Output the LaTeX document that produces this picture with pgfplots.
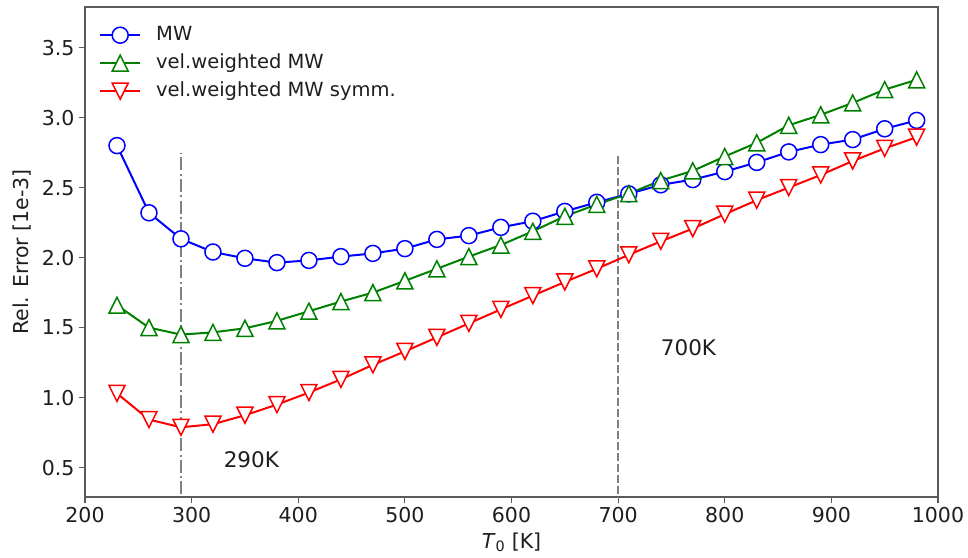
\documentclass[border=0pt]{standalone}
\usepackage{pgfplots}
\pgfplotsset{compat=1.18}
\usepackage{fontspec}
\setmainfont{DejaVu Sans}

% matplotlib-style triangle markers (bounding box centred on the data point)
\pgfdeclareplotmark{tup}{%
  \pgfpathmoveto{\pgfqpoint{0pt}{\pgfplotmarksize}}%
  \pgfpathlineto{\pgfqpoint{-\pgfplotmarksize}{-\pgfplotmarksize}}%
  \pgfpathlineto{\pgfqpoint{\pgfplotmarksize}{-\pgfplotmarksize}}%
  \pgfpathclose\pgfusepathqfillstroke}
\pgfdeclareplotmark{tdown}{%
  \pgfpathmoveto{\pgfqpoint{0pt}{-\pgfplotmarksize}}%
  \pgfpathlineto{\pgfqpoint{-\pgfplotmarksize}{\pgfplotmarksize}}%
  \pgfpathlineto{\pgfqpoint{\pgfplotmarksize}{\pgfplotmarksize}}%
  \pgfpathclose\pgfusepathqfillstroke}

\definecolor{mplblue}{RGB}{0,0,255}
\definecolor{mplgreen}{RGB}{0,128,0}
\definecolor{mplred}{RGB}{255,0,0}
\definecolor{spine}{RGB}{90,90,90}
\definecolor{txt}{RGB}{30,30,30}

\pgfplotstableread{
T     mw     vw     vws
230   2.80   1.66   1.03
260   2.32   1.50   0.843
290   2.134  1.45   0.788
320   2.04   1.466  0.81
350   1.995  1.495  0.874
380   1.964  1.548  0.95
410   1.98   1.617  1.036
440   2.007  1.686  1.13
470   2.03   1.75   1.234
500   2.064  1.834  1.33
530   2.13   1.92   1.43
560   2.157  2.007  1.53
590   2.216  2.09   1.63
620   2.26   2.188  1.728
650   2.33   2.295  1.826
680   2.395  2.38   1.92
710   2.455  2.457  2.02
740   2.52   2.55   2.116
770   2.557  2.62   2.207
800   2.614  2.722  2.31
830   2.68   2.82   2.41
860   2.755  2.945  2.50
890   2.807  3.02   2.59
920   2.843  3.105  2.69
950   2.92   3.20   2.78
980   2.98   3.27   2.86
}\errdata

\begin{document}
\begin{tikzpicture}
\begin{axis}[
  scale only axis,
  width=853pt, height=490pt,
  xmin=200, xmax=1000, ymin=0.29, ymax=3.79,
  xtick={200,300,...,1000},
  ytick={0.5,1.0,...,3.5},
  yticklabel style={/pgf/number format/fixed, /pgf/number format/fixed zerofill,
    /pgf/number format/precision=1, xshift=-1pt},
  /pgf/number format/assume math mode=true,
  /pgf/number format/set thousands separator={},
  tick align=outside,
  major tick length=6pt,
  tick style={spine, line width=1.1pt},
  axis line style={spine, line width=1.2pt},
  ticklabel style={font=\fontsize{20.5}{24}\selectfont, text=txt},
  xtick pos=bottom, ytick pos=left,
  xticklabel style={yshift=-1pt},
  label style={font=\fontsize{20.5}{24}\selectfont, text=txt},
  xlabel={\textit{T}\textsubscript{0} [K]},
  xlabel style={at={(axis description cs:0.5,-0.1041)}, anchor=base},
  ylabel={Rel. Error [1e-3]},
  ylabel style={at={(axis description cs:-0.0668,0.5)}, anchor=base},
  legend cell align=left,
  legend style={at={(0,1)}, anchor=north west, xshift=14pt, yshift=-19pt,
    draw=none, fill=none, inner sep=0pt,
    font=\fontsize{19.5}{23}\selectfont, text=txt,
    row sep=10pt,
    /tikz/every odd column/.append style={column sep=15pt},
    nodes={inner sep=0pt, text height=14pt, text depth=4pt}},
  legend image code/.code={%
    \draw[mark repeat=2, mark phase=2, #1] plot coordinates {(0pt,0pt) (20pt,0pt) (40pt,0pt)};},
  every axis plot/.append style={line width=2pt, mark size=8pt,
    mark options={solid, fill=white, line width=1.5pt}},
]
% reference temperatures
\addplot[forget plot, color=gray, line width=1.4pt,
  dash pattern=on 13pt off 3.3pt on 2pt off 3.3pt, mark=none]
  coordinates {(290,0) (290,2.75)};
\addplot[forget plot, color=gray, line width=1.4pt,
  dash pattern=on 7.7pt off 3.3pt, mark=none]
  coordinates {(700,0) (700,2.75)};

\addplot[color=mplblue, mark=*] table[x=T, y=mw] {\errdata};
\addlegendentry{MW}
\addplot[color=mplgreen, mark=tup] table[x=T, y=vw] {\errdata};
\addlegendentry{vel.weighted MW}
\addplot[color=mplred, mark=tdown] table[x=T, y=vws] {\errdata};
\addlegendentry{vel.weighted MW symm.}

\node[anchor=base west, inner sep=0pt, text=txt, font=\fontsize{21.5}{25}\selectfont]
  at (axis cs:330,0.5) {290K};
\node[anchor=base west, inner sep=0pt, text=txt, font=\fontsize{21.5}{25}\selectfont]
  at (axis cs:740,1.3) {700K};
\end{axis}
\pgfresetboundingbox
\path (-85pt,-60pt) rectangle (883pt,497pt);
\end{tikzpicture}
\end{document}
